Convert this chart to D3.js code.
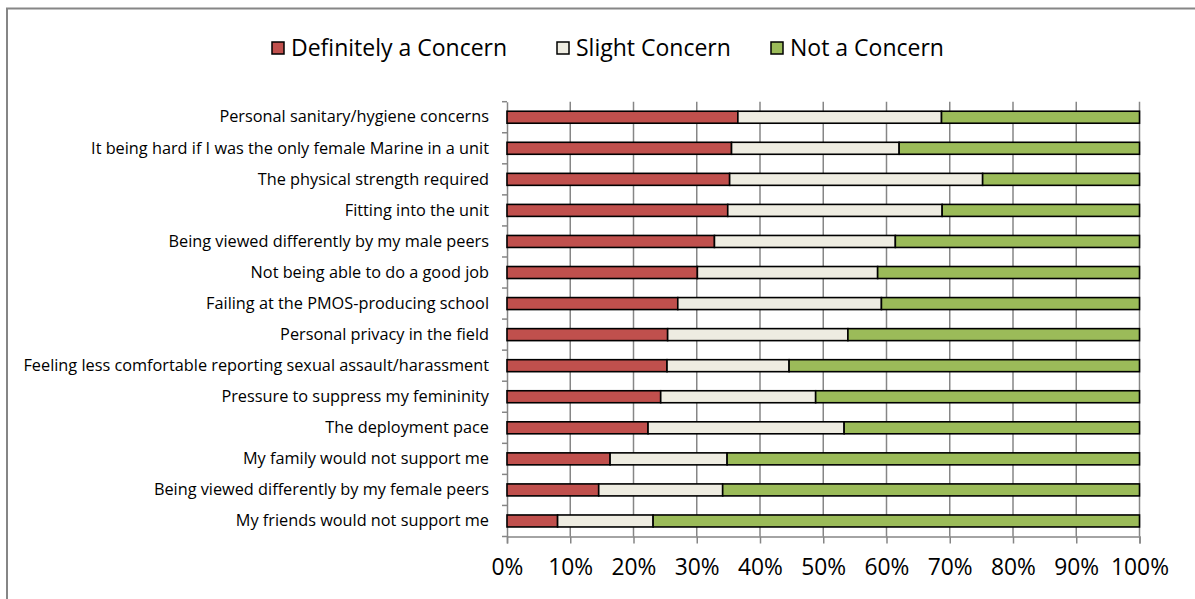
<!DOCTYPE html>
<html><head><meta charset="utf-8">
<script src="https://cdn.jsdelivr.net/npm/d3@7"></script>
<style>
html,body{margin:0;padding:0;background:#fff;}
svg{display:block;font-family:"Open Sans",sans-serif;}
</style></head>
<body>
<svg id="chart" width="1195" height="599"></svg>
<script>
const categories = [
  "Personal sanitary/hygiene concerns",
  "It being hard if I was the only female Marine in a unit",
  "The physical strength required",
  "Fitting into the unit",
  "Being viewed differently by my male peers",
  "Not being able to do a good job",
  "Failing at the PMOS-producing school",
  "Personal privacy in the field",
  "Feeling less comfortable reporting sexual assault/harassment",
  "Pressure to suppress my femininity",
  "The deployment pace",
  "My family would not support me",
  "Being viewed differently by my female peers",
  "My friends would not support me"
];
const definitely = [36.5, 35.5, 35.2, 34.9, 32.8, 30.1, 27.0, 25.4, 25.3, 24.3, 22.3, 16.3, 14.5, 8.0];
const slight     = [32.2, 26.5, 40.0, 33.9, 28.6, 28.5, 32.2, 28.5, 19.3, 24.5, 31.0, 18.5, 19.6, 15.1];
const notConcern = [31.3, 38.0, 24.8, 31.2, 38.6, 41.4, 40.8, 46.1, 55.4, 51.2, 46.7, 65.2, 65.9, 76.9];
const seriesNames = ["Definitely a Concern", "Slight Concern", "Not a Concern"];
const seriesColors = ["#C0504D", "#EEECE1", "#9BBB59"];
const xTicks = [0,10,20,30,40,50,60,70,80,90,100];

const svg = d3.select("#chart");

// outer frame (extends past right/bottom edges)
svg.append("rect").attr("x",7).attr("y",8.5).attr("width",1300).attr("height",700)
  .attr("fill","none").attr("stroke","#868686").attr("stroke-width",2);

const m = {left:507, right:1139.5, top:101.7, bottom:536.5};
const x = d3.scaleLinear().domain([0,100]).range([m.left, m.right]);
const y = d3.scaleBand().domain(categories).range([m.top, m.bottom]).paddingInner(0.614).paddingOuter(0.307);

const rows = categories.map((c,i)=>({cat:c, vals:[definitely[i], slight[i], notConcern[i]]}));
const stack = d3.stack().keys([0,1,2]).value((d,k)=>d.vals[k]);
const stacked = stack(rows);

// gridlines
svg.append("g").selectAll("line").data(xTicks.slice(1)).join("line")
  .attr("x1",d=>x(d)).attr("x2",d=>x(d)).attr("y1",m.top).attr("y2",m.bottom)
  .attr("stroke","#868686").attr("stroke-width",1.5);

// x axis
const xAxis = svg.append("g").attr("transform",`translate(0,${m.bottom})`)
  .call(d3.axisBottom(x).tickValues(xTicks).tickFormat(d=>d+"%").tickSize(7).tickPadding(15));
xAxis.select(".domain").attr("stroke","#868686").attr("stroke-width",1.5);
xAxis.selectAll(".tick line").attr("stroke","#868686").attr("stroke-width",1.5);
xAxis.selectAll("text").attr("font-size","22.8px").attr("font-family","Open Sans").attr("fill","#000");

// y axis
const yAxis = svg.append("g").attr("transform",`translate(${m.left},0)`)
  .call(d3.axisLeft(y).tickSize(0).tickPadding(18));
yAxis.select(".domain").attr("stroke","#868686").attr("stroke-width",1.5);
yAxis.selectAll("text").attr("font-size","16.3px").attr("font-family","Open Sans").attr("fill","#000");
// category boundary ticks
const step = y.step();
svg.append("g").selectAll("line").data(d3.range(categories.length+1)).join("line")
  .attr("x1",m.left-5).attr("x2",m.left).attr("y1",i=>m.top+i*step).attr("y2",i=>m.top+i*step)
  .attr("stroke","#868686").attr("stroke-width",1.5);

// bars
svg.append("g").selectAll("g").data(stacked).join("g")
  .attr("fill",(d,i)=>seriesColors[i])
  .selectAll("rect").data(d=>d).join("rect")
  .attr("x",d=>x(d[0])).attr("width",d=>x(d[1])-x(d[0]))
  .attr("y",d=>y(d.data.cat)).attr("height",y.bandwidth())
  .attr("stroke","#000").attr("stroke-width",1.6);

// legend
const legendX = [272, 557, 771];
const lg = svg.append("g");
seriesNames.forEach((n,i)=>{
  lg.append("rect").attr("x",legendX[i]).attr("y",42).attr("width",12).attr("height",12)
    .attr("fill",seriesColors[i]).attr("stroke","#000").attr("stroke-width",1.5);
  lg.append("text").attr("x",legendX[i]+19).attr("y",56).text(n)
    .attr("font-size","23px").attr("font-family","Open Sans").attr("fill","#000");
});
</script>
</body></html>
